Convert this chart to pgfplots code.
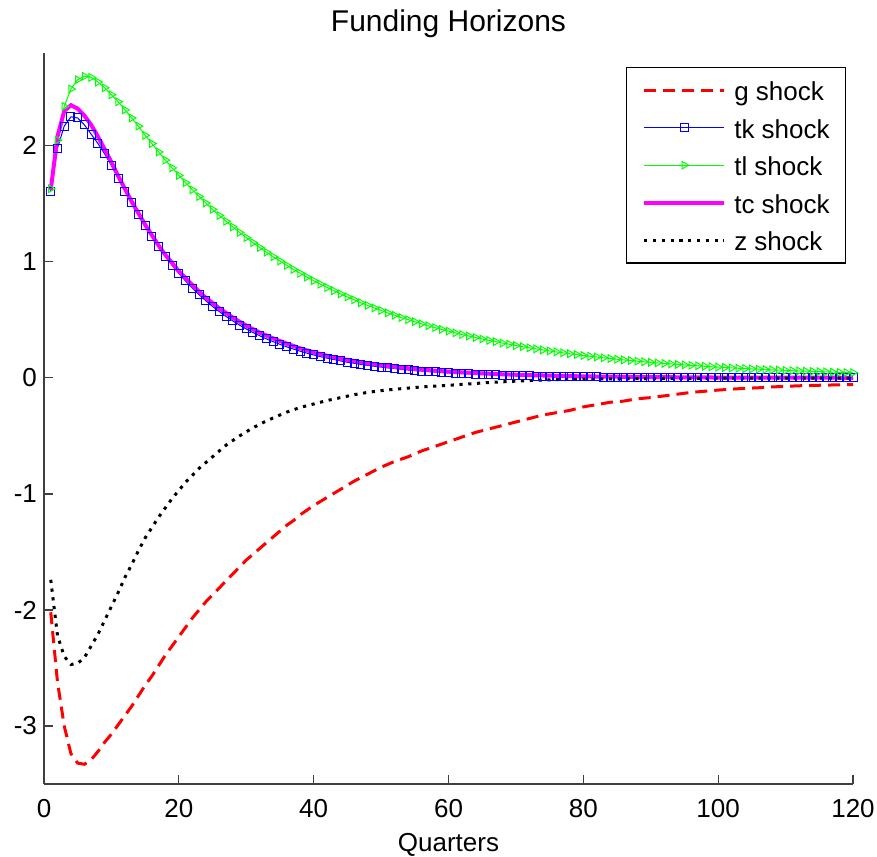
\documentclass[border=0pt]{standalone}
\usepackage{fontspec}
\setmainfont{Liberation Sans}
\usepackage{pgfplots}
\pgfplotsset{compat=1.18}
\definecolor{mred}{RGB}{255,0,0}
\definecolor{mblue}{RGB}{0,0,255}
\definecolor{mgreen}{RGB}{0,255,0}
\definecolor{mmag}{RGB}{255,0,255}
\begin{document}
\begin{tikzpicture}
\useasboundingbox (-22pt,-36pt) rectangle (416.5pt,392pt);
\begin{axis}[
  at={(0pt,0pt)}, anchor=south west,
  width=404.5pt, height=365.5pt, scale only axis,
  xmin=0, xmax=120, ymin=-3.5, ymax=2.8,
  xtick={0,20,...,120}, ytick={-3,-2,-1,0,1,2},
  axis lines=left,
  axis line style={-, black!75, line width=0.6pt},
  tick align=inside, major tick length=4.5pt,
  tick style={black!75, line width=0.6pt},
  clip=false,
  /pgf/number format/assume math mode=true,
  tick label style={font=\fontsize{13pt}{15pt}\selectfont},
  every x tick label/.append style={anchor=base, yshift=-16.5pt},
  title={Funding Horizons},
  every axis title/.style={at={(0.5,1)}, anchor=base, yshift=10.5pt, font=\fontsize{15pt}{18pt}\selectfont},
  xlabel={Quarters},
  every axis x label/.style={at={(0.5,0)}, anchor=base, yshift=-33.5pt, font=\fontsize{13pt}{15pt}\selectfont},
  legend image code/.code={\draw[mark repeat=2,mark phase=2,#1] plot coordinates {(0pt,0pt) (20pt,0pt) (40pt,0pt)};},
  legend cell align=left,
  legend style={at={(0.7190,0.9813)}, anchor=north west, draw=black, line width=0.6pt,
    font=\fontsize{13pt}{15pt}\selectfont,
    inner xsep=8pt, inner ysep=5.4pt, row sep=6.65pt,
    nodes={inner sep=0pt, text height=11.4pt, text depth=0.7pt},
    /tikz/every odd column/.append style={column sep=4pt}},
]
% g shock
\addplot[mred, line width=1.5pt, dash pattern=on 6pt off 3.5pt] coordinates {
(1,-2.02)(2,-2.62)(3,-3.00)(4,-3.24)(5,-3.32)(6,-3.33)(7,-3.29)(8,-3.22)(9,-3.14)(10,-3.07)
(11,-2.99)(12,-2.91)(13,-2.83)(14,-2.74)(15,-2.65)(16,-2.57)(17,-2.48)(18,-2.39)(19,-2.31)(20,-2.23)
(21,-2.15)(22,-2.07)(23,-2.00)(24,-1.93)(25,-1.87)(26,-1.81)(27,-1.75)(28,-1.69)(29,-1.63)(30,-1.57)
(31,-1.52)(32,-1.47)(33,-1.42)(34,-1.37)(35,-1.32)(36,-1.27)(37,-1.23)(38,-1.18)(39,-1.14)(40,-1.10)
(42,-1.03)(44,-0.96)(46,-0.89)(48,-0.83)(50,-0.77)(52,-0.72)(54,-0.68)(56,-0.63)(58,-0.59)(60,-0.55)
(62,-0.51)(64,-0.47)(66,-0.44)(68,-0.41)(70,-0.38)(72,-0.35)(74,-0.32)(76,-0.30)(78,-0.28)(80,-0.25)
(82,-0.23)(84,-0.21)(86,-0.20)(88,-0.18)(90,-0.17)(92,-0.155)(94,-0.14)(96,-0.125)(98,-0.115)(100,-0.105)
(102,-0.097)(104,-0.09)(106,-0.085)(108,-0.078)(110,-0.073)(112,-0.068)(114,-0.065)(116,-0.062)(118,-0.06)(120,-0.058)
};
\addlegendentry{g shock}
% tk shock
\addplot[mblue, line width=0.5pt, mark=square, mark size=2pt, mark options={solid, mblue, line width=0.5pt}] coordinates {
(1,1.61)(2,1.98)(3,2.17)(4,2.25)(5,2.24)(6,2.18)(7,2.10)(8,2.02)(9,1.93)(10,1.83)
(11,1.72)(12,1.61)(13,1.51)(14,1.41)(15,1.31)(16,1.22)(17,1.13)(18,1.05)(19,0.97)(20,0.90)
(21,0.835)(22,0.774)(23,0.717)(24,0.665)(25,0.616)(26,0.571)(27,0.530)(28,0.491)(29,0.455)(30,0.422)
(31,0.391)(32,0.363)(33,0.336)(34,0.312)(35,0.289)(36,0.268)(37,0.248)(38,0.230)(39,0.213)(40,0.198)
(41,0.183)(42,0.170)(43,0.158)(44,0.146)(45,0.135)(46,0.126)(47,0.116)(48,0.108)(49,0.100)(50,0.093)
(51,0.086)(52,0.080)(53,0.074)(54,0.068)(55,0.063)(56,0.059)(57,0.055)(58,0.051)(59,0.047)(60,0.043)
(61,0.040)(62,0.037)(63,0.035)(64,0.032)(65,0.030)(66,0.028)(67,0.026)(68,0.024)(69,0.022)(70,0.020)
(71,0.019)(72,0.017)(73,0.016)(74,0.015)(75,0.014)(76,0.013)(77,0.012)(78,0.011)(79,0.010)(80,0.009)
(81,0.009)(82,0.008)(83,0.007)(84,0.007)(85,0.006)(86,0.006)(87,0.005)(88,0.005)(89,0.004)(90,0.004)
(91,0.004)(92,0.003)(93,0.003)(94,0.003)(95,0.003)(96,0.002)(97,0.002)(98,0.002)(99,0.002)(100,0.002)
(101,0.002)(102,0.001)(103,0.001)(104,0.001)(105,0.001)(106,0.001)(107,0.001)(108,0.001)(109,0.001)(110,0.001)
(111,0.001)(112,0.001)(113,0.001)(114,0.000)(115,0.000)(116,0.000)(117,0.000)(118,0.000)(119,0.000)(120,0.000)
};
\addlegendentry{tk shock}
% tl shock
\addplot[mgreen, line width=0.5pt, mark=triangle, mark size=2.2pt, mark options={solid, mgreen, rotate=-90, line width=0.5pt}] coordinates {
(1,1.63)(2,2.05)(3,2.34)(4,2.49)(5,2.57)(6,2.60)(7,2.59)(8,2.55)(9,2.50)(10,2.44)
(11,2.38)(12,2.31)(13,2.24)(14,2.17)(15,2.09)(16,2.02)(17,1.947)(18,1.877)(19,1.810)(20,1.745)
(21,1.682)(22,1.621)(23,1.563)(24,1.507)(25,1.452)(26,1.400)(27,1.350)(28,1.301)(29,1.254)(30,1.209)
(31,1.166)(32,1.124)(33,1.083)(34,1.044)(35,1.007)(36,0.970)(37,0.935)(38,0.902)(39,0.869)(40,0.838)
(41,0.808)(42,0.779)(43,0.751)(44,0.724)(45,0.698)(46,0.673)(47,0.648)(48,0.625)(49,0.603)(50,0.581)
(51,0.560)(52,0.540)(53,0.520)(54,0.502)(55,0.484)(56,0.466)(57,0.449)(58,0.433)(59,0.418)(60,0.403)
(61,0.388)(62,0.374)(63,0.361)(64,0.348)(65,0.335)(66,0.323)(67,0.312)(68,0.300)(69,0.290)(70,0.279)
(71,0.269)(72,0.259)(73,0.250)(74,0.241)(75,0.232)(76,0.224)(77,0.216)(78,0.208)(79,0.201)(80,0.193)
(81,0.186)(82,0.180)(83,0.173)(84,0.167)(85,0.161)(86,0.155)(87,0.150)(88,0.144)(89,0.139)(90,0.134)
(91,0.129)(92,0.125)(93,0.120)(94,0.116)(95,0.112)(96,0.108)(97,0.104)(98,0.100)(99,0.096)(100,0.093)
(101,0.090)(102,0.086)(103,0.083)(104,0.080)(105,0.077)(106,0.075)(107,0.072)(108,0.069)(109,0.067)(110,0.064)
(111,0.062)(112,0.060)(113,0.058)(114,0.056)(115,0.054)(116,0.052)(117,0.050)(118,0.048)(119,0.046)(120,0.045)
};
\addlegendentry{tl shock}
% tc shock
\addplot[mmag, line width=2pt] coordinates {
(1,1.62)(2,2.08)(3,2.30)(4,2.35)(5,2.32)(6,2.26)(7,2.18)(8,2.08)(9,1.97)(10,1.86)
(11,1.74)(12,1.63)(13,1.52)(14,1.42)(15,1.32)(16,1.23)(17,1.14)(18,1.06)(19,0.99)(20,0.92)
(22,0.80)(24,0.69)(26,0.60)(28,0.52)(30,0.45)(32,0.39)(34,0.34)(36,0.295)(38,0.255)(40,0.22)
(42,0.19)(44,0.165)(46,0.145)(48,0.125)(50,0.11)(52,0.095)(54,0.083)(56,0.072)(58,0.062)(60,0.054)
(62,0.048)(64,0.042)(66,0.036)(68,0.031)(70,0.027)(75,0.019)(80,0.013)(85,0.01)(90,0.007)(95,0.005)
(100,0.003)(110,0.002)(120,0.001)
};
\addlegendentry{tc shock}
% z shock
\addplot[black, line width=1.5pt, dash pattern=on 1.6pt off 2.8pt] coordinates {
(1,-1.74)(2,-2.22)(3,-2.40)(4,-2.47)(5,-2.46)(6,-2.41)(7,-2.31)(8,-2.21)(9,-2.09)(10,-1.97)
(11,-1.85)(12,-1.72)(13,-1.61)(14,-1.49)(15,-1.38)(16,-1.29)(17,-1.20)(18,-1.12)(19,-1.04)(20,-0.97)
(21,-0.90)(22,-0.84)(23,-0.78)(24,-0.73)(25,-0.68)(26,-0.63)(27,-0.58)(28,-0.54)(29,-0.50)(30,-0.465)
(31,-0.43)(32,-0.40)(33,-0.37)(34,-0.345)(35,-0.32)(36,-0.295)(37,-0.275)(38,-0.255)(39,-0.24)(40,-0.225)
(42,-0.195)(44,-0.17)(46,-0.145)(48,-0.125)(50,-0.11)(52,-0.098)(54,-0.088)(56,-0.078)(58,-0.071)(60,-0.064)
(62,-0.056)(64,-0.048)(66,-0.04)(68,-0.034)(70,-0.028)(72,-0.023)(74,-0.019)(76,-0.016)(78,-0.013)(80,-0.011)
(85,-0.008)(90,-0.006)(95,-0.004)(100,-0.003)(110,-0.002)(120,-0.001)
};
\addlegendentry{z shock}
\end{axis}
\end{tikzpicture}
\end{document}
